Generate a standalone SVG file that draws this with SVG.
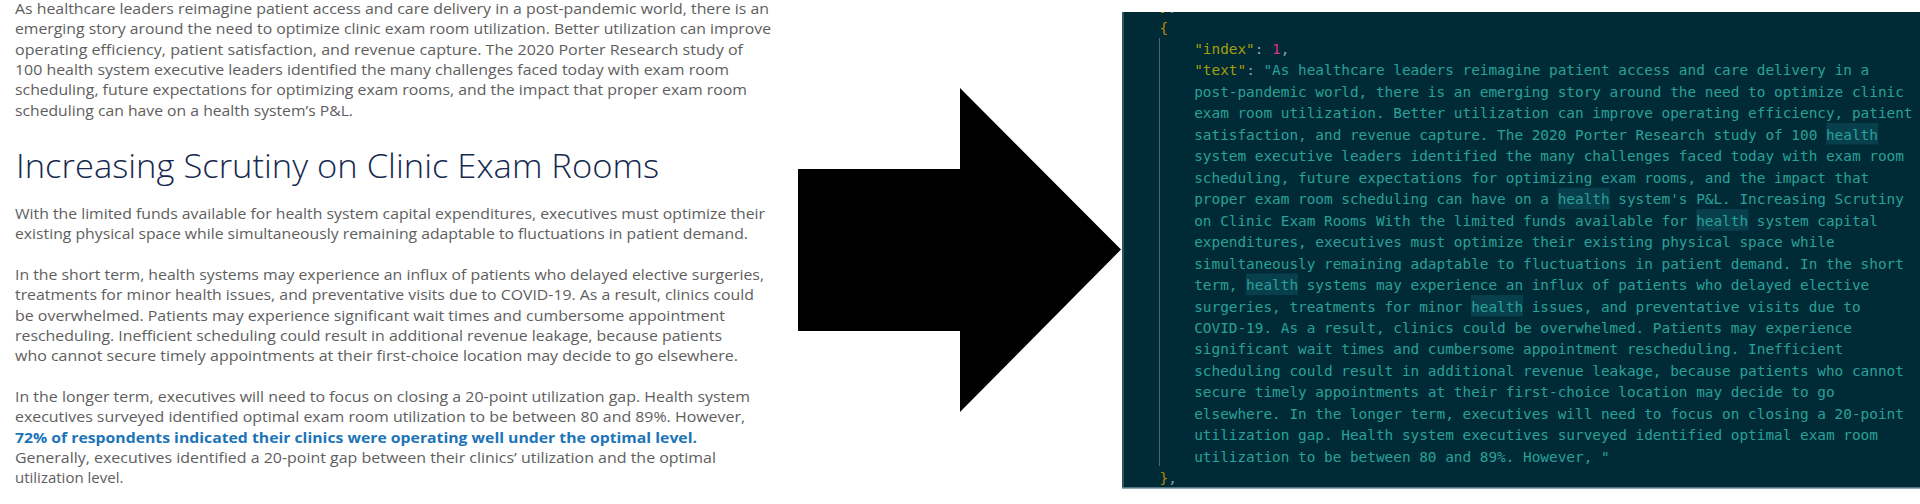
<svg xmlns="http://www.w3.org/2000/svg" width="1920" height="504" viewBox="0 0 1920 504">
<defs>
<style>
.body{font-family:"Open Sans","Liberation Sans",sans-serif;font-size:15px;fill:#5e5e5e;}
.bold{font-family:"Open Sans","Liberation Sans",sans-serif;font-size:15px;font-weight:700;fill:#1d74b7;}
.head{font-family:"Open Sans","Liberation Sans",sans-serif;font-size:33px;font-weight:300;fill:#16294f;}
.code{font-family:"DejaVu Sans Mono","Liberation Mono",monospace;font-size:14.39px;fill:#2aa198;}
.key{fill:#a39e0f;}
.punc{fill:#8fa1a6;}
.num{fill:#d33682;}
.brace{fill:#b58900;}
.hl{fill:#083f4c;}
</style>
<clipPath id="panelClip"><rect x="1122" y="12" width="798" height="476"/></clipPath>
</defs>
<rect width="1920" height="504" fill="#ffffff"/>

<g id="article">
<text class="body" x="15" y="14" textLength="754" lengthAdjust="spacingAndGlyphs">As healthcare leaders reimagine patient access and care delivery in a post-pandemic world, there is an</text>
<text class="body" x="15" y="34.3" textLength="756" lengthAdjust="spacingAndGlyphs">emerging story around the need to optimize clinic exam room utilization. Better utilization can improve</text>
<text class="body" x="15" y="54.6" textLength="728" lengthAdjust="spacingAndGlyphs">operating efficiency, patient satisfaction, and revenue capture. The 2020 Porter Research study of</text>
<text class="body" x="15" y="74.9" textLength="714" lengthAdjust="spacingAndGlyphs">100 health system executive leaders identified the many challenges faced today with exam room</text>
<text class="body" x="15" y="95.2" textLength="732" lengthAdjust="spacingAndGlyphs">scheduling, future expectations for optimizing exam rooms, and the impact that proper exam room</text>
<text class="body" x="15" y="115.5" textLength="338" lengthAdjust="spacingAndGlyphs">scheduling can have on a health system’s P&amp;L.</text>

<text class="head" x="16" y="178" textLength="643" lengthAdjust="spacingAndGlyphs">Increasing Scrutiny on Clinic Exam Rooms</text>

<text class="body" x="15" y="219" textLength="750" lengthAdjust="spacingAndGlyphs">With the limited funds available for health system capital expenditures, executives must optimize their</text>
<text class="body" x="15" y="239.3" textLength="733" lengthAdjust="spacingAndGlyphs">existing physical space while simultaneously remaining adaptable to fluctuations in patient demand.</text>

<text class="body" x="15" y="280" textLength="749" lengthAdjust="spacingAndGlyphs">In the short term, health systems may experience an influx of patients who delayed elective surgeries,</text>
<text class="body" x="15" y="300.3" textLength="739" lengthAdjust="spacingAndGlyphs">treatments for minor health issues, and preventative visits due to COVID-19. As a result, clinics could</text>
<text class="body" x="15" y="320.6" textLength="710" lengthAdjust="spacingAndGlyphs">be overwhelmed. Patients may experience significant wait times and cumbersome appointment</text>
<text class="body" x="15" y="340.9" textLength="707" lengthAdjust="spacingAndGlyphs">rescheduling. Inefficient scheduling could result in additional revenue leakage, because patients</text>
<text class="body" x="15" y="361.2" textLength="723" lengthAdjust="spacingAndGlyphs">who cannot secure timely appointments at their first-choice location may decide to go elsewhere.</text>

<text class="body" x="15" y="402" textLength="735" lengthAdjust="spacingAndGlyphs">In the longer term, executives will need to focus on closing a 20-point utilization gap. Health system</text>
<text class="body" x="15" y="422.3" textLength="730" lengthAdjust="spacingAndGlyphs">executives surveyed identified optimal exam room utilization to be between 80 and 89%. However,</text>
<text class="bold" x="15" y="442.6" textLength="682" lengthAdjust="spacingAndGlyphs">72% of respondents indicated their clinics were operating well under the optimal level.</text>
<text class="body" x="15" y="462.9" textLength="701" lengthAdjust="spacingAndGlyphs">Generally, executives identified a 20-point gap between their clinics’ utilization and the optimal</text>
<text class="body" x="15" y="483.2">utilization level.</text>
</g>

<g id="connectors">
<polygon points="798,169 960,169 960,88 1121,249.5 960,412 960,331 798,331" fill="#000000"/>
</g>

<g id="code-panel">
<rect x="1122" y="12" width="798" height="476" fill="#002b36"/>
<line x1="1123" y1="12" x2="1123" y2="488" stroke="#2c5866" stroke-width="2"/>
<line x1="1122" y1="488" x2="1920" y2="488" stroke="#6f8c96" stroke-width="1.5"/>
<line x1="1159.5" y1="38" x2="1159.5" y2="466" stroke="#48646d" stroke-width="1"/>
<g clip-path="url(#panelClip)">
<text class="code" x="1159.5" y="11.1"><tspan class="brace">}</tspan><tspan class="punc">,</tspan></text>
</g>
<rect class="hl" x="1826.2" y="123" width="52" height="21.5"/>
<rect class="hl" x="1557.7" y="187.7" width="52" height="21.5"/>
<rect class="hl" x="1696.3" y="209.1" width="52" height="21.5"/>
<rect class="hl" x="1246" y="273.5" width="52" height="21.5"/>
<rect class="hl" x="1471" y="295" width="52" height="21.5"/>
<text class="code brace" x="1159.5" y="32.5">{</text>
<text class="code" x="1194.2" y="54"><tspan class="key">"index"</tspan><tspan class="punc">: </tspan><tspan class="num">1</tspan><tspan class="punc">,</tspan></text>
<text class="code" x="1194.2" y="75.4"><tspan class="key">"text"</tspan><tspan class="punc">: </tspan>"As healthcare leaders reimagine patient access and care delivery in a</text>
<text class="code" x="1194.2" y="96.9">post-pandemic world, there is an emerging story around the need to optimize clinic</text>
<text class="code" x="1194.2" y="118.3">exam room utilization. Better utilization can improve operating efficiency, patient</text>
<text class="code" x="1194.2" y="139.8">satisfaction, and revenue capture. The 2020 Porter Research study of 100 health</text>
<text class="code" x="1194.2" y="161.3">system executive leaders identified the many challenges faced today with exam room</text>
<text class="code" x="1194.2" y="182.7">scheduling, future expectations for optimizing exam rooms, and the impact that</text>
<text class="code" x="1194.2" y="204.2">proper exam room scheduling can have on a health system's P&amp;L. Increasing Scrutiny</text>
<text class="code" x="1194.2" y="225.6">on Clinic Exam Rooms With the limited funds available for health system capital</text>
<text class="code" x="1194.2" y="247.1">expenditures, executives must optimize their existing physical space while</text>
<text class="code" x="1194.2" y="268.6">simultaneously remaining adaptable to fluctuations in patient demand. In the short</text>
<text class="code" x="1194.2" y="290">term, health systems may experience an influx of patients who delayed elective</text>
<text class="code" x="1194.2" y="311.5">surgeries, treatments for minor health issues, and preventative visits due to</text>
<text class="code" x="1194.2" y="333">COVID-19. As a result, clinics could be overwhelmed. Patients may experience</text>
<text class="code" x="1194.2" y="354.4">significant wait times and cumbersome appointment rescheduling. Inefficient</text>
<text class="code" x="1194.2" y="375.9">scheduling could result in additional revenue leakage, because patients who cannot</text>
<text class="code" x="1194.2" y="397.3">secure timely appointments at their first-choice location may decide to go</text>
<text class="code" x="1194.2" y="418.8">elsewhere. In the longer term, executives will need to focus on closing a 20-point</text>
<text class="code" x="1194.2" y="440.3">utilization gap. Health system executives surveyed identified optimal exam room</text>
<text class="code" x="1194.2" y="461.7">utilization to be between 80 and 89%. However, "</text>
<text class="code" x="1159.5" y="483.2"><tspan class="brace">}</tspan><tspan class="punc">,</tspan></text>
</g>
</svg>
